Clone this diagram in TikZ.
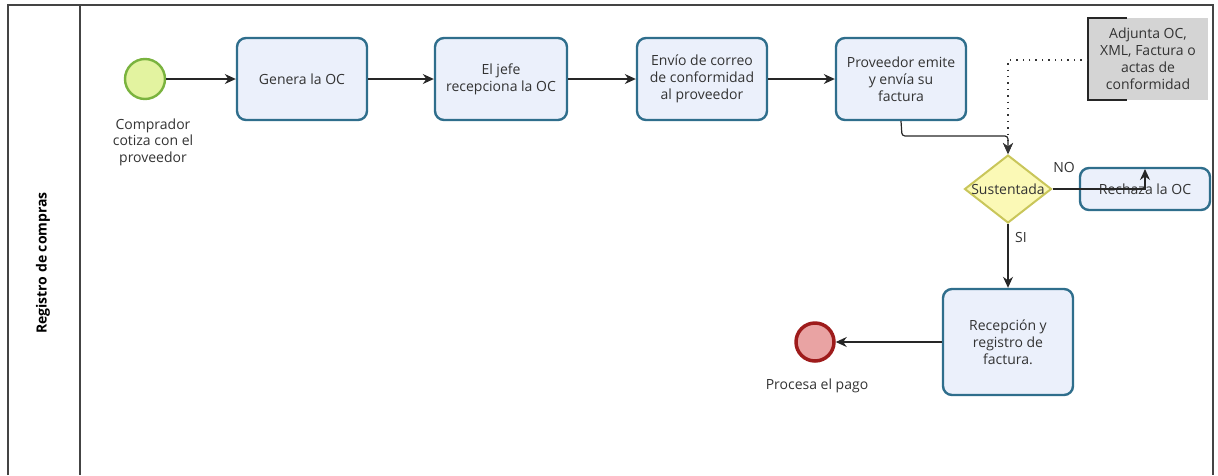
\documentclass[tikz,border=0pt]{standalone}
\usepackage{fontspec}
\setmainfont{Open Sans}
\usetikzlibrary{arrows.meta,shapes.geometric}
\definecolor{taskline}{HTML}{2F6E8C}
\definecolor{taskfill}{HTML}{EBF0FB}
\definecolor{startline}{HTML}{7AB33E}
\definecolor{startfill}{HTML}{E3F3A0}
\definecolor{endline}{HTML}{9E1B1B}
\definecolor{endfill}{HTML}{E9A3A3}
\definecolor{gateline}{HTML}{C9C65A}
\definecolor{gatefill}{HTML}{FBF9B6}
\definecolor{txt}{HTML}{333333}
\definecolor{frame}{HTML}{444444}
\tikzset{
  task/.style={draw=taskline, fill=taskfill, line width=2.4pt, rounded corners=9pt,
    minimum width=130pt, minimum height=82pt, align=center, text=txt,
    font=\fontsize{14}{17}\selectfont, inner sep=2pt},
  startev/.style={circle, draw=startline, fill=startfill, line width=2.4pt, minimum size=40pt, inner sep=0pt},
  endev/.style={circle, draw=endline, fill=endfill, line width=3.5pt, minimum size=38pt, inner sep=0pt},
  gate/.style={diamond, draw=gateline, fill=gatefill, line width=2pt, minimum width=87pt, minimum height=68pt, inner sep=0pt},
  lbl/.style={text=txt, align=center, font=\fontsize{14}{16.5}\selectfont},
  flow/.style={draw=black!85, line width=1.2pt, -{Stealth[length=11pt,width=10pt]}},
  assoc/.style={draw=black!80, line width=1.4pt, dash pattern=on 1.4pt off 5pt, -{Stealth[length=11pt,width=10pt]}},
}
\begin{document}
\begin{tikzpicture}[x=1pt, y=-1pt]
\useasboundingbox (0,0) rectangle (1218,475);
% pool frame and lane header
\coordinate (tl) at (8,5);
\coordinate (tr) at (1213,5);
\draw[frame, line width=1.5pt] (8,475) -- (tl) -- (tr) -- (1213,475);
\draw[frame, line width=1.5pt] (80,5) -- (80,475);
\node[rotate=90, text=black, font=\bfseries\fontsize{14}{16}\selectfont] (lane) at (43,263) {Registro de compras};

% events and tasks
\node[startev] (s) at (145,79) {};
\node[lbl, anchor=north] (sl) at (153,115) {Comprador\\cotiza con el\\proveedor};
\node[task] (t1) at (302,79) {Genera la OC};
\node[task, minimum width=132pt] (t2) at (501,79) {El jefe\\recepciona la OC};
\node[task] (t3) at (702,79) {Envío de correo\\de conformidad\\al proveedor};
\node[task] (t4) at (901,79) {Proveedor emite\\y envía su\\factura};
\node[gate] (g) at (1008,189) {};
\node[lbl] (gl) at (g.center) {Sustentada};
\node[task, minimum height=42pt] (r) at (1145,189) {Rechaza la OC};
\node[task, minimum height=106pt] (t5) at (1008,342) {Recepción y\\registro de\\factura.};
\node[endev] (e) at (815,342) {};
\node[lbl] (el) at (817,386) {Procesa el pago};

% data annotation
\fill[black!17] (1088,18) rectangle (1208,100);
\draw[black!85, line width=1.4pt] (1127,18) -- (1088,18) -- (1088,100) -- (1127,100);
\node[lbl, font=\fontsize{14}{17}\selectfont] (ann) at (1148,59) {Adjunta OC,\\XML, Factura o\\actas de\\conformidad};
\coordinate (annw) at (1088,60);

% sequence flows
\draw[flow] (s) -- (t1);
\draw[flow] (t1) -- (t2);
\draw[flow] (t2) -- (t3);
\draw[flow] (t3) -- (t4);
\draw[flow, rounded corners=3pt] (t4.south) -- (902,136) -- (1008,136) -- (g.north);
\draw[assoc] (annw) -- (1008,60) -- (g.north);
\draw[flow] (g.east) -- (1145,189) -- (1145,169);
\node[lbl] (no) at (1064,167) {NO};
\draw[flow] (g.south) -- (t5.north);
\node[lbl] (si) at (1021,237) {SI};
\draw[flow] (t5.west) -- (e);
\end{tikzpicture}
\end{document}
